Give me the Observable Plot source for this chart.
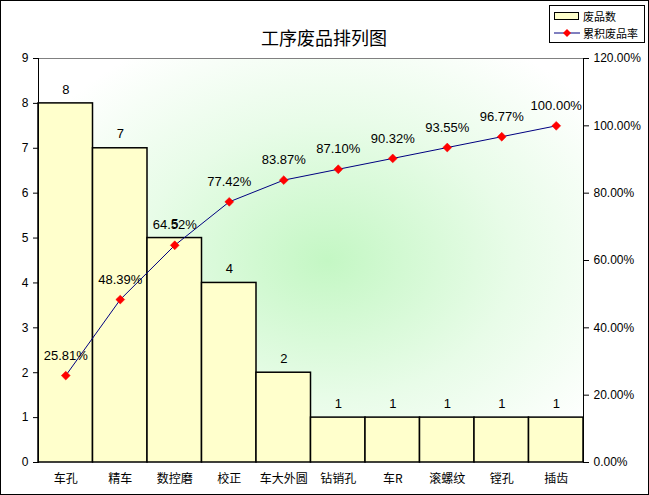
<!DOCTYPE html>
<html><head><meta charset="utf-8">
<script src="https://cdn.jsdelivr.net/npm/d3@7"></script>
<script src="https://cdn.jsdelivr.net/npm/@observablehq/plot@0.6"></script>
<style>
body{margin:0;background:#fff;}
#wrap{position:relative;width:649px;height:495px;font-family:"Liberation Sans","Noto Sans CJK SC",sans-serif;}
#border{position:absolute;left:0;top:0;width:647px;height:493px;border:1px solid #000;pointer-events:none;}
#legend{position:absolute;left:549px;top:5px;width:94px;height:36px;border:1px solid #000;background:#fff;font-size:11px;}
#legend .row{position:absolute;left:4px;height:16px;display:flex;align-items:center;}
#legend span{margin-left:3px;font-family:"Noto Sans CJK SC",sans-serif;}
</style></head>
<body>
<div id="wrap"><div id="border"></div></div>
<script>
const categories = ["车孔","精车","数控磨","校正","车大外圆","钻销孔","车R","滚螺纹","镗孔","插齿"];
const counts = [8,7,5,4,2,1,1,1,1,1];
const cumPct = [25.81,48.39,64.52,77.42,83.87,87.10,90.32,93.55,96.77,100.00];
const leftTicks = [0,1,2,3,4,5,6,7,8,9];
const rightTicks = [0,20,40,60,80,100,120];
const title = "工序废品排列图";
const legendLabels = ["废品数","累积废品率"];

const yMax = 9, pctMax = 120;
const rows = categories.map((c,i)=>({cat:c,count:counts[i],pct:cumPct[i],yPct:cumPct[i]*yMax/pctMax}));
const font = '"Liberation Sans","Noto Sans CJK SC",sans-serif';

const chart = Plot.plot({
  width:649, height:495,
  marginLeft:38, marginRight:66, marginTop:58, marginBottom:33,
  x:{domain:categories, padding:0, round:false, axis:null},
  y:{domain:[0,yMax], axis:null},
  style:{fontFamily:font, fontSize:"12px", background:"transparent", color:"black", overflow:"visible"},
  marks:[
    Plot.frame({fill:"url(#bggrad)", stroke:null}),
    Plot.barY(rows,{x:"cat", y:"count", fill:"#ffffcc", stroke:"black", strokeWidth:1.5, inset:0}),
    Plot.ruleY([yMax],{stroke:"#808080", strokeWidth:1}),
    Plot.frame({anchor:"left", stroke:"black"}),
    Plot.frame({anchor:"right", stroke:"black"}),
    Plot.axisY(leftTicks,{anchor:"left", tickSize:5, tickPadding:5, fontSize:12, tickFormat:d=>String(d), label:null}),
    Plot.axisY(rightTicks.map(p=>p*yMax/pctMax),{anchor:"right", tickSize:5, tickPadding:5, fontSize:12, tickFormat:d=>(d*pctMax/yMax).toFixed(2)+"%", label:null}),
    Plot.axisX({anchor:"bottom", tickSize:0, tickPadding:12, fontSize:12, fontFamily:'"Noto Sans CJK SC",sans-serif', label:null}),
    Plot.text(rows,{x:"cat", y:"count", text:d=>String(d.count), dy:-14, fontSize:13}),
    Plot.line(rows,{x:"cat", y:"yPct", stroke:"#000080", strokeWidth:1}),
    Plot.dot(rows,{x:"cat", y:"yPct", symbol:"diamond2", r:4, fill:"#ff0000", stroke:"#ff0000", strokeWidth:0.5}),
    Plot.text(rows,{x:"cat", y:"yPct", text:d=>d.pct.toFixed(2)+"%", dy:-20, fontSize:13}),
    Plot.text([title],{frameAnchor:"top", dx:13, dy:-26, fontSize:18, fontFamily:'"Noto Sans CJK SC",sans-serif'})
  ]
});

const svg = d3.select(chart);
const defs = svg.insert("defs",":first-child");
const g = defs.append("radialGradient").attr("id","bggrad").attr("cx","0.53").attr("cy","0.5").attr("r","0.62");
g.append("stop").attr("offset","0").attr("stop-color","#c4f7c4");
g.append("stop").attr("offset","0.55").attr("stop-color","#e8fce8");
g.append("stop").attr("offset","1").attr("stop-color","#ffffff");

const wrap = document.getElementById("wrap");
wrap.insertBefore(chart, wrap.firstChild);

const legend = document.createElement("div");
legend.id = "legend";
legend.innerHTML =
  `<div class="row" style="top:2px"><svg width="26" height="10"><rect x="0.5" y="1.5" width="24" height="7" fill="#ffffcc" stroke="#000"/></svg><span>${legendLabels[0]}</span></div>` +
  `<div class="row" style="top:19px"><svg width="26" height="10"><line x1="0" x2="26" y1="5" y2="5" stroke="#000080"/><path d="M13 1 L17 5 L13 9 L9 5 Z" fill="#ff0000"/></svg><span>${legendLabels[1]}</span></div>`;
wrap.appendChild(legend);
</script>
</body></html>
